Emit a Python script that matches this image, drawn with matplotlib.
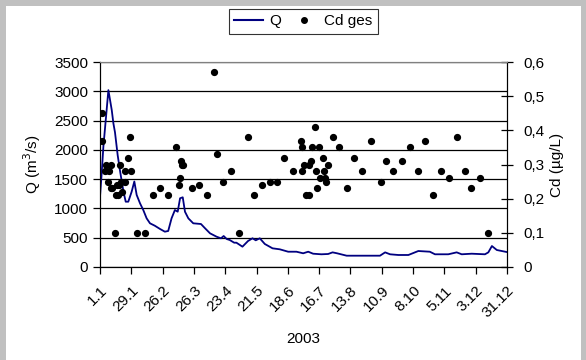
import matplotlib
matplotlib.use('Agg')
import matplotlib.pyplot as plt
from matplotlib.lines import Line2D
from matplotlib.patches import Rectangle
from matplotlib.ticker import FuncFormatter

plt.rcParams['font.family'] = ['Liberation Sans', 'DejaVu Sans']
plt.rcParams['font.size'] = 11

# Abfluss Q (Tag im Jahr, m3/s)
q_day = [0, 1.5, 3, 5.4, 7.5, 9, 10.5, 12, 13.4, 15.8, 18, 21, 23, 25.3, 28.3, 30.7,
         32.8, 35.8, 38.7, 41.7, 44.7, 49, 53.7, 58, 61, 64, 67, 69.5, 71.6, 74, 76,
         79, 83.4, 90.3, 94, 98.4, 104.3, 108.2, 110.6, 113.3, 116, 120, 122, 127.4,
         132.4, 136.4, 139.3, 142.9, 147.4, 154.3, 160.8, 168.3, 175.7, 181.7, 186.2,
         190.6, 198, 204, 208, 212, 220.6, 237, 250.4, 255, 259.4, 266.8, 275.8, 284.7,
         295, 299.6, 311.5, 319, 323.5, 332.4, 344.3, 347.3, 350.5, 354.9, 362.4, 364]
q_val = [1200, 1600, 2050, 2565, 3020, 2850, 2680, 2450, 2300, 1910, 1630, 1285, 1115,
         1115, 1285, 1460, 1230, 1087, 973, 831, 746, 705, 649, 603, 615, 831, 973, 944,
         1173, 1190, 944, 831, 746, 734, 660, 575, 517, 490, 529, 478, 461, 415, 415,
         347, 444, 490, 456, 490, 393, 319, 302, 261, 261, 234, 261, 227, 217, 222,
         250, 234, 193, 193, 193, 250, 217, 205, 205, 273, 261, 217, 217, 250, 217,
         227, 217, 250, 358, 290, 261, 255]

# Cd gesamt (Tag im Jahr, ug/L)
cd_day = [2, 1.5, 5, 4.5, 8, 10, 7, 10, 11, 14, 16, 15, 17, 18, 19, 19.5, 22, 22.5,
          25, 26.5, 28, 13, 33, 40, 47, 54, 61, 68, 72, 74.5, 73.5, 71.5, 70.5, 82,
          88.5, 96, 102, 104.5, 110, 117, 124, 132, 138, 145, 152, 158, 165, 173,
          179.5, 180.5, 181, 182, 184.5, 187, 186.5, 188.5, 189.5, 192, 193, 194,
          195.5, 196.5, 199, 200.5, 201, 202, 203.5, 208, 214, 221, 227.5, 234, 242,
          251, 256, 262, 270, 277, 284, 291, 298, 305, 312, 319, 326, 332, 340, 347]
cd_val = [0.45, 0.37, 0.30, 0.28, 0.28, 0.30, 0.25, 0.23, 0.23, 0.21, 0.21, 0.24,
          0.24, 0.30, 0.25, 0.22, 0.28, 0.25, 0.32, 0.38, 0.28, 0.10, 0.10, 0.10,
          0.21, 0.23, 0.21, 0.35, 0.31, 0.30, 0.30, 0.26, 0.24, 0.23, 0.24, 0.21,
          0.57, 0.33, 0.25, 0.28, 0.10, 0.38, 0.21, 0.24, 0.25, 0.25, 0.32, 0.28,
          0.37, 0.35, 0.28, 0.30, 0.21, 0.21, 0.30, 0.31, 0.35, 0.41, 0.28, 0.23,
          0.35, 0.26, 0.32, 0.28, 0.26, 0.25, 0.30, 0.38, 0.35, 0.23, 0.32, 0.28,
          0.37, 0.25, 0.31, 0.28, 0.31, 0.35, 0.28, 0.37, 0.21, 0.28, 0.26, 0.38,
          0.28, 0.23, 0.26, 0.10]

tick_labels = ['1.1', '29.1', '26.2', '26.3', '23.4', '21.5', '18.6', '16.7',
               '13.8', '10.9', '8.10', '5.11', '3.12', '31.12']

fig = plt.figure(figsize=(5.86, 3.6), dpi=100, facecolor='#c0c0c0')
fig.patches.append(Rectangle((6 / 586, 0), 575 / 586, 354 / 360,
                             transform=fig.transFigure, facecolor='white',
                             edgecolor='none', zorder=-10))

ax = fig.add_axes([100 / 586, 1 - 267 / 360, 407 / 586, 205 / 360])
ax.set_facecolor('none')
ax.plot(q_day, q_val, color='#000080', lw=1.3, zorder=3)
ax.set_xlim(0, 364)
ax.set_ylim(0, 3500)
ax.set_yticks(range(0, 3501, 500))
ax.grid(axis='y', color='black', lw=0.9)
ax.set_axisbelow(True)
ax.set_xticks([28 * i for i in range(len(tick_labels))])
ax.set_xticklabels(tick_labels, rotation=45, ha='right', va='top',
                   rotation_mode='anchor')
ax.tick_params(axis='both', direction='out', length=5, width=0.9, color='black')
ax.tick_params(axis='x', pad=7)
ax.set_ylabel('Q (m$^3$/s)', labelpad=8)
ax.set_xlabel('2003', labelpad=8)
ax.spines['top'].set_color('#808080')
for s in ['left', 'bottom', 'right']:
    ax.spines[s].set_color('black')

ax2 = ax.twinx()
ax2.plot(cd_day, cd_val, 'o', color='black', ms=4.2, zorder=4)
ax2.set_ylim(0, 0.6)
ax2.set_yticks([0, 0.1, 0.2, 0.3, 0.4, 0.5, 0.6])
ax2.yaxis.set_major_formatter(FuncFormatter(
    lambda v, p: '0' if v == 0 else ('%.1f' % v).replace('.', ',')))
ax2.tick_params(axis='y', direction='inout', length=8, width=0.9, pad=8)
ax2.set_ylabel('Cd (µg/L)', labelpad=4)
ax2.spines['top'].set_color('#808080')
ax2.spines['right'].set_color('black')

handles = [Line2D([], [], color='#000080', lw=1.5),
           Line2D([], [], ls='none', marker='o', color='black', ms=4)]
leg = fig.legend(handles, ['Q', 'Cd ges'], ncol=2, loc='upper left',
                 bbox_to_anchor=(229 / 586, 1 - 9 / 360), frameon=True,
                 fancybox=False, edgecolor='black', handlelength=1.9,
                 columnspacing=0.5, borderpad=0.35, handletextpad=0.4,
                 borderaxespad=0)
leg.get_frame().set_linewidth(0.8)

fig.savefig('out.png', dpi=100, facecolor=fig.get_facecolor())
